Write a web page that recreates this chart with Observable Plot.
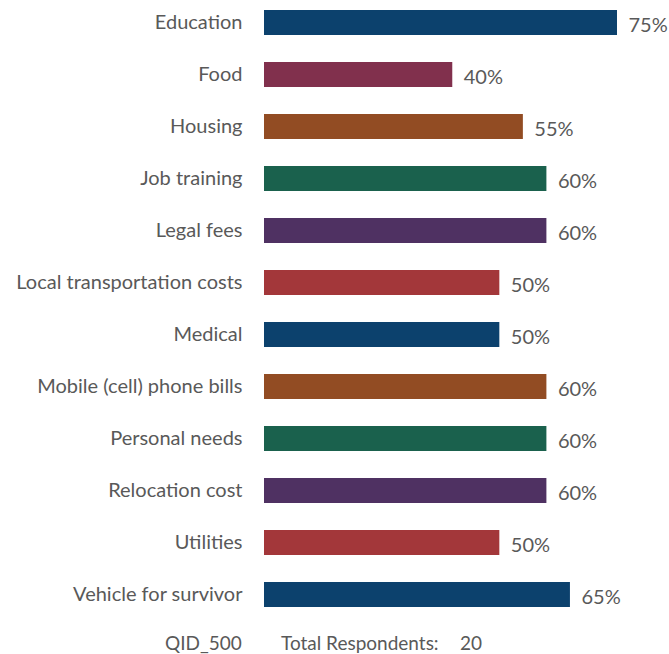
<!DOCTYPE html>
<html>
<head>
<meta charset="utf-8">
<script src="https://cdn.jsdelivr.net/npm/d3@7"></script>
<script src="https://cdn.jsdelivr.net/npm/@observablehq/plot@0.6"></script>
<style>
  html, body { margin: 0; padding: 0; background: #fff; }
  #chart { width: 669px; }
  .footer { font-family: Lato, "Noto Sans", sans-serif; font-size: 19px; color: #595959; height: 39px; position: relative; }
  .footer span { position: absolute; top: 16px; line-height: 22px; }
</style>
</head>
<body>
<div id="chart"></div>
<script>
const categories = ["Education", "Food", "Housing", "Job training", "Legal fees", "Local transportation costs", "Medical", "Mobile (cell) phone bills", "Personal needs", "Relocation cost", "Utilities", "Vehicle for survivor"];
const values = [75, 40, 55, 60, 60, 50, 50, 60, 60, 60, 50, 65];
const colors = ["#0c416d", "#81304d", "#924c23", "#1a614d", "#4f3162", "#a3373a", "#0c416d", "#924c23", "#1a614d", "#4f3162", "#a3373a", "#0c416d"];
const footerQid = "QID_500";
const footerLabel = "Total Respondents:";
const footerN = "20";

const data = categories.map((c, i) => ({category: c, value: values[i], color: colors[i]}));

const chart = Plot.plot({
  width: 669,
  height: 616,
  marginLeft: 264,
  marginRight: 52,
  marginTop: 0,
  marginBottom: 0,
  style: {fontFamily: "Lato, 'Noto Sans', sans-serif", color: "#595959", background: "#fff", overflow: "visible"},
  x: {domain: [0, 75], axis: null},
  y: {domain: categories, paddingInner: 0.52, paddingOuter: 0.18, label: null},
  marks: [
    Plot.barX(data, {y: "category", x: "value", fill: "color"}),
    Plot.text(data, {y: "category", x: "value", text: d => d.value + "%", textAnchor: "start", dx: 11, dy: 3, fontSize: 20, fill: "#595959"}),
    Plot.axisY({tickSize: 0, tickPadding: 22, fontSize: 20, label: null})
  ]
});
document.getElementById("chart").appendChild(chart);

const footer = document.createElement("div");
footer.className = "footer";
footer.innerHTML = `<span style="left:165px">${footerQid}</span><span style="left:281px">${footerLabel}</span><span style="left:460px">${footerN}</span>`;
document.getElementById("chart").appendChild(footer);
</script>
</body>
</html>
